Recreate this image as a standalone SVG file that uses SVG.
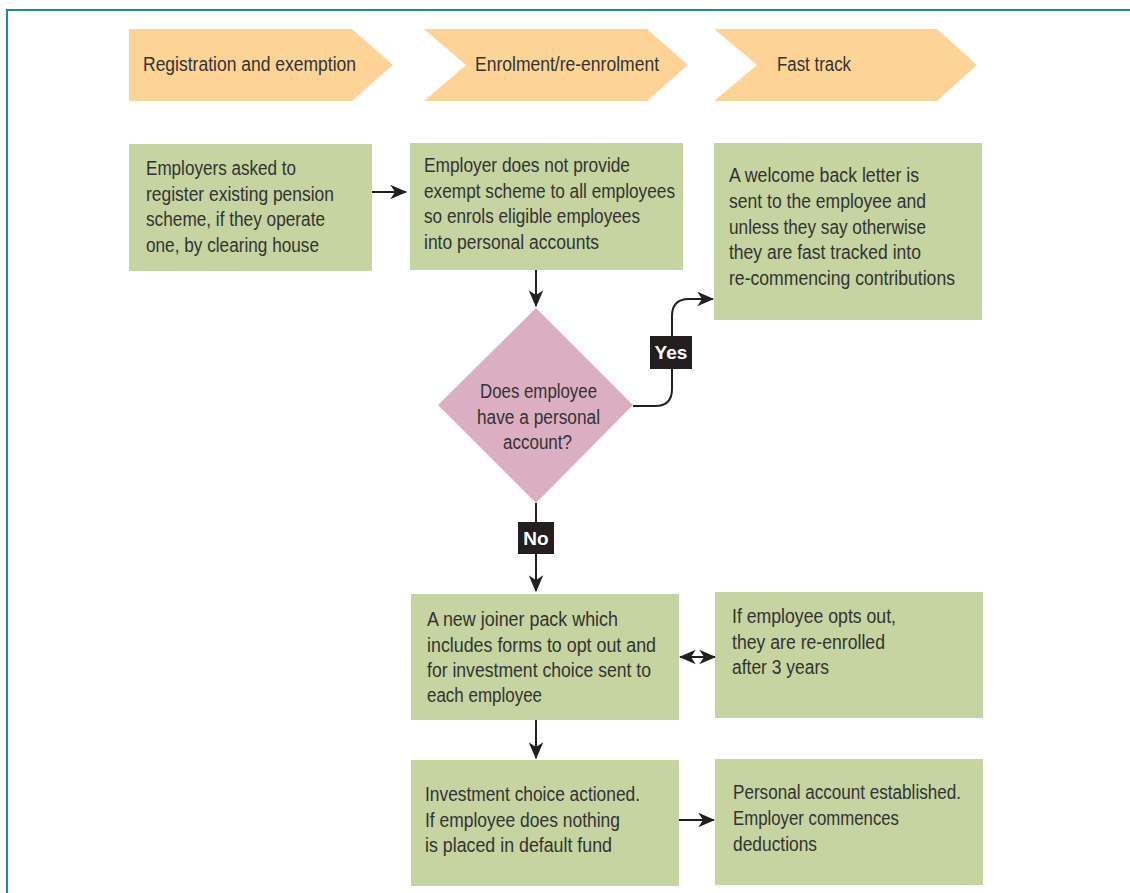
<svg xmlns="http://www.w3.org/2000/svg" width="1130" height="893" viewBox="0 0 1130 893">
<defs>
<style>
.frame{fill:none;stroke:#1b8a9c;stroke-width:2}
.chev{fill:#fdd495}
.box{fill:#c5d4a0}
.dia{fill:#dbaec1}
.t{font-family:"Liberation Sans",Arial,sans-serif;font-size:20px;fill:#333333}
.lab{fill:#231f20}
.lt{font-family:"Liberation Sans",Arial,sans-serif;font-size:19px;font-weight:bold;fill:#ffffff;text-anchor:middle}
.ln{fill:none;stroke:#231f20;stroke-width:2}
</style>
<marker id="ah" viewBox="0 0 14 12" refX="13" refY="6" markerWidth="8.5" markerHeight="7.5" markerUnits="strokeWidth" orient="auto-start-reverse">
<path d="M0,0 L14,6 L0,12 L4,6 z" fill="#231f20"/>
</marker>
</defs>
<path class="frame" d="M7,893 V10 H1130"/>

<g id="header1"><polygon class="chev" points="129,29 352,29 393,65 352,101 129,101"/><text class="t" x="143" y="71" textLength="213" lengthAdjust="spacingAndGlyphs">Registration and exemption</text></g>
<g id="header2"><polygon class="chev" points="424,29 647,29 688,65 647,101 424,101 466,65"/><text class="t" x="475" y="71" textLength="184" lengthAdjust="spacingAndGlyphs">Enrolment/re-enrolment</text></g>
<g id="header3"><polygon class="chev" points="714,29 937,29 977,65 937,101 714,101 757,65"/><text class="t" x="777" y="71" textLength="74" lengthAdjust="spacingAndGlyphs">Fast track</text></g>

<g id="box1"><rect class="box" x="129" y="144" width="243" height="127"/>
<text class="t"><tspan x="146" y="175" textLength="150" lengthAdjust="spacingAndGlyphs">Employers asked to</tspan><tspan x="146" y="201" textLength="188" lengthAdjust="spacingAndGlyphs">register existing pension</tspan><tspan x="146" y="226" textLength="179" lengthAdjust="spacingAndGlyphs">scheme, if they operate</tspan><tspan x="146" y="252" textLength="173" lengthAdjust="spacingAndGlyphs">one, by clearing house</tspan></text></g>

<g id="box2"><rect class="box" x="410" y="143" width="273" height="127"/>
<text class="t"><tspan x="424" y="172" textLength="206" lengthAdjust="spacingAndGlyphs">Employer does not provide</tspan><tspan x="424" y="198" textLength="251" lengthAdjust="spacingAndGlyphs">exempt scheme to all employees</tspan><tspan x="424" y="223" textLength="216" lengthAdjust="spacingAndGlyphs">so enrols eligible employees</tspan><tspan x="424" y="249" textLength="175" lengthAdjust="spacingAndGlyphs">into personal accounts</tspan></text></g>

<g id="box3"><rect class="box" x="714" y="143" width="268" height="177"/>
<text class="t"><tspan x="729" y="182" textLength="190" lengthAdjust="spacingAndGlyphs">A welcome back letter is</tspan><tspan x="729" y="208" textLength="197" lengthAdjust="spacingAndGlyphs">sent to the employee and</tspan><tspan x="729" y="234" textLength="197" lengthAdjust="spacingAndGlyphs">unless they say otherwise</tspan><tspan x="729" y="259" textLength="192" lengthAdjust="spacingAndGlyphs">they are fast tracked into</tspan><tspan x="729" y="285" textLength="226" lengthAdjust="spacingAndGlyphs">re-commencing contributions</tspan></text></g>

<g id="decision"><polygon class="dia" points="536,308 633,405 536,503 438,405"/>
<text class="t"><tspan x="480" y="398" textLength="117" lengthAdjust="spacingAndGlyphs">Does employee</tspan><tspan x="477" y="424" textLength="123" lengthAdjust="spacingAndGlyphs">have a personal</tspan><tspan x="503" y="449" textLength="69" lengthAdjust="spacingAndGlyphs">account?</tspan></text></g>

<g id="box4"><rect class="box" x="411" y="594" width="268" height="126"/>
<text class="t"><tspan x="427" y="626" textLength="191" lengthAdjust="spacingAndGlyphs">A new joiner pack which</tspan><tspan x="427" y="652" textLength="229" lengthAdjust="spacingAndGlyphs">includes forms to opt out and</tspan><tspan x="427" y="677" textLength="224" lengthAdjust="spacingAndGlyphs">for investment choice sent to</tspan><tspan x="427" y="702" textLength="115" lengthAdjust="spacingAndGlyphs">each employee</tspan></text></g>

<g id="box5"><rect class="box" x="715" y="592" width="268" height="126"/>
<text class="t"><tspan x="732" y="623" textLength="164" lengthAdjust="spacingAndGlyphs">If employee opts out,</tspan><tspan x="732" y="649" textLength="153" lengthAdjust="spacingAndGlyphs">they are re-enrolled</tspan><tspan x="732" y="674" textLength="97" lengthAdjust="spacingAndGlyphs">after 3 years</tspan></text></g>

<g id="box6"><rect class="box" x="411" y="760" width="268" height="126"/>
<text class="t"><tspan x="425" y="801" textLength="215" lengthAdjust="spacingAndGlyphs">Investment choice actioned.</tspan><tspan x="425" y="827" textLength="195" lengthAdjust="spacingAndGlyphs">If employee does nothing</tspan><tspan x="425" y="852" textLength="187" lengthAdjust="spacingAndGlyphs">is placed in default fund</tspan></text></g>

<g id="box7"><rect class="box" x="715" y="759" width="268" height="126"/>
<text class="t"><tspan x="733" y="799" textLength="228" lengthAdjust="spacingAndGlyphs">Personal account established.</tspan><tspan x="733" y="825" textLength="166" lengthAdjust="spacingAndGlyphs">Employer commences</tspan><tspan x="733" y="851" textLength="84" lengthAdjust="spacingAndGlyphs">deductions</tspan></text></g>

<g id="connectors">
<line class="ln" x1="372" y1="192" x2="406" y2="192" marker-end="url(#ah)"/>
<line class="ln" x1="536" y1="270" x2="536" y2="306" marker-end="url(#ah)"/>
<path class="ln" d="M633,406 H655 Q672,406 672,389 V316 Q672,299 689,299 H713" marker-end="url(#ah)"/>
<line class="ln" x1="536" y1="503" x2="536" y2="591" marker-end="url(#ah)"/>
<line class="ln" x1="680" y1="657" x2="715" y2="657" marker-start="url(#ah)" marker-end="url(#ah)"/>
<line class="ln" x1="536" y1="720" x2="536" y2="758" marker-end="url(#ah)"/>
<line class="ln" x1="679" y1="820" x2="714" y2="820" marker-end="url(#ah)"/>
<g id="label-yes"><rect class="lab" x="650" y="336" width="42" height="33"/><text class="lt" x="671" y="359">Yes</text></g>
<g id="label-no"><rect class="lab" x="518" y="522" width="36" height="32"/><text class="lt" x="536" y="545">No</text></g>
</g>
</svg>
